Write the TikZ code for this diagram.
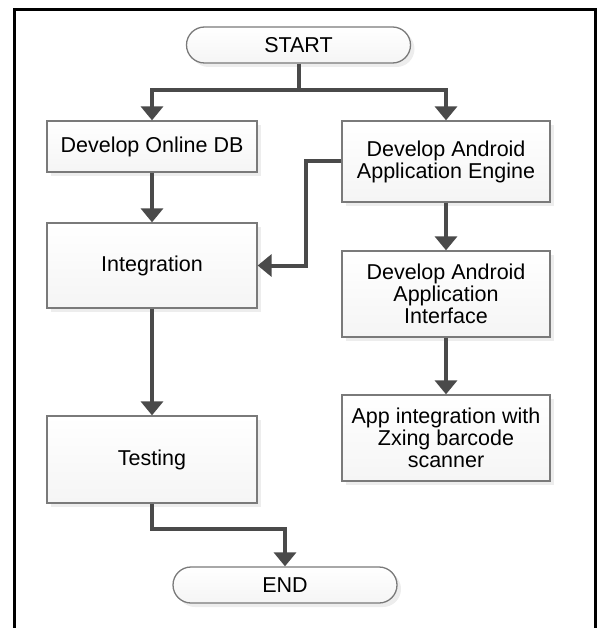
\documentclass[tikz,border=0pt]{standalone}
\usepackage{fontspec}
\setmainfont{Liberation Sans}
\usetikzlibrary{arrows.meta,shadows}
\definecolor{linegray}{HTML}{4A4A4A}
\definecolor{boxgray}{HTML}{7A7A7A}

\begin{document}
\begin{tikzpicture}[x=1pt,y=-1pt,
    every node/.style={font=\fontsize{21.5}{22}\selectfont, align=center, text=black},
    proc/.style={draw=boxgray, line width=1.3pt, minimum width=210pt, top color=white, bottom color=gray!8,
                 drop shadow={shadow xshift=4pt, shadow yshift=-4pt, fill=gray!20, opacity=.7}},
    term/.style={proc, minimum width=224pt, minimum height=36pt, rounded corners=18pt},
    arr/.style={draw=linegray, line width=4pt, -{Triangle[width=22pt,length=14pt]}}]
\useasboundingbox (0,0) rectangle (600,628);
\draw[line width=3pt] (14.5,628) -- (14.5,10) -- (595,10) -- (595,628);

\node[term] (start) at (298.5,45) {START};
\node[proc, minimum height=51pt] (db) at (152,146.5) {Develop Online DB};
\node[proc, minimum width=208pt, minimum height=81pt] (engine) at (446,161.5) {Develop Android\\Application Engine};
\node[proc, minimum height=85pt] (integ) at (152,265.5) {Integration};
\node[proc, minimum width=208pt, minimum height=86pt] (iface) at (446,294) {Develop Android\\Application\\Interface};
\node[proc, minimum width=208pt, minimum height=86pt] (app) at (446,438) {App integration with\\Zxing barcode\\scanner};
\node[proc, minimum height=87pt] (test) at (152,459.5) {Testing};
\node[term] (end) at (285,585) {END};

\coordinate (split) at (298.5,90);
\draw[arr] (start) -- (split) -| (db);
\draw[arr] (split) -| (engine);
\draw[arr] (db) -- (integ);
\draw[arr] (engine.west) -- ++(-35,0) |- (integ.east);
\draw[arr] (engine) -- (iface);
\draw[arr] (iface) -- (app);
\draw[arr] (integ) -- (test);
\draw[arr] (test.south) -- ++(0,25) -| (end);
\end{tikzpicture}
\end{document}
